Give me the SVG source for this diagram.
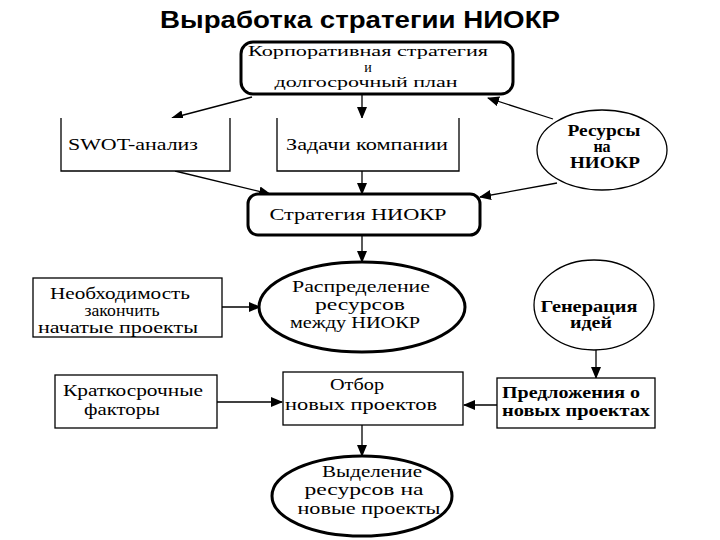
<svg xmlns="http://www.w3.org/2000/svg" width="720" height="540" viewBox="0 0 720 540">
<defs>
<style>
.t{font-family:"Liberation Serif","Times New Roman",serif;font-size:16px;fill:#000;text-anchor:middle}
.s{font-size:14px}
.b{font-weight:bold}
.thick{fill:#fff;stroke:#000;stroke-width:3}
.thin{fill:#fff;stroke:#000;stroke-width:1.3}
.c{fill:none;stroke:#000;stroke-width:1.3;marker-end:url(#ah)}
</style>
<marker id="ah" viewBox="0 0 12 10" refX="11" refY="5" markerWidth="12" markerHeight="10" markerUnits="userSpaceOnUse" orient="auto">
<path d="M0,0 L12,5 L0,10 Z" fill="#000"/>
</marker>
</defs>
<rect width="720" height="540" fill="#fff"/>
<text x="360" y="28" textLength="400" lengthAdjust="spacingAndGlyphs" style="font-family:'Liberation Sans',Arial,sans-serif;font-size:23px;font-weight:bold;text-anchor:middle">Выработка стратегии НИОКР</text>

<g id="connectors">
<path class="c" d="M252,97 L172,118"/>
<path class="c" d="M362,95 L362,118"/>
<path class="c" d="M553,119 L488,98"/>
<path class="c" d="M175,171 L270,194"/>
<path class="c" d="M362,171 L362,194"/>
<path class="c" d="M557,183 L480,197"/>
<path class="c" d="M362,235 L362,262"/>
<path class="c" d="M222,307 L260,307"/>
<path class="c" d="M596,350 L596,378"/>
<path class="c" d="M217,402 L282,402"/>
<path class="c" d="M497,405 L464,405"/>
<path class="c" d="M362,425 L362,456"/>
</g>

<g id="corp">
<rect class="thick" x="241" y="42" width="272" height="52" rx="12"/>
<text class="t s" x="368" y="56" textLength="240" lengthAdjust="spacingAndGlyphs">Корпоративная стратегия</text>
<text class="t s" x="368" y="71.5">и</text>
<text class="t s" x="366" y="87" textLength="183" lengthAdjust="spacingAndGlyphs">долгосрочный план</text>
</g>

<g id="swot">
<path class="thin" d="M61,118 L61,171 L230,171 L230,118"/>
<text class="t" x="133" y="150" textLength="130" lengthAdjust="spacingAndGlyphs">SWOT-анализ</text>
</g>

<g id="tasks">
<path class="thin" d="M277,118 L277,171 L459,171 L459,118"/>
<text class="t" x="367" y="150" textLength="162" lengthAdjust="spacingAndGlyphs">Задачи компании</text>
</g>

<g id="resources">
<ellipse class="thin" cx="602" cy="150" rx="65" ry="40"/>
<text class="t b" x="604" y="136" textLength="73" lengthAdjust="spacingAndGlyphs">Ресурсы</text>
<text class="t b" x="602" y="152">на</text>
<text class="t b" x="605" y="168" textLength="70" lengthAdjust="spacingAndGlyphs">НИОКР</text>
</g>

<g id="strategy">
<rect class="thick" x="248" y="194" width="232" height="41" rx="10"/>
<text class="t" x="358" y="220" textLength="177" lengthAdjust="spacingAndGlyphs">Стратегия НИОКР</text>
</g>

<g id="finish">
<rect class="thin" x="33" y="278" width="189" height="59"/>
<text class="t" x="120" y="299" textLength="140" lengthAdjust="spacingAndGlyphs">Необходимость</text>
<text class="t" x="122" y="316" textLength="75" lengthAdjust="spacingAndGlyphs">закончить</text>
<text class="t" x="118" y="333" textLength="160" lengthAdjust="spacingAndGlyphs">начатые проекты</text>
</g>

<g id="distribution">
<ellipse class="thick" cx="362" cy="307" rx="103" ry="45"/>
<text class="t" x="361" y="292" textLength="138" lengthAdjust="spacingAndGlyphs">Распределение</text>
<text class="t" x="360" y="310" textLength="90" lengthAdjust="spacingAndGlyphs">ресурсов</text>
<text class="t" x="355" y="328" textLength="130" lengthAdjust="spacingAndGlyphs">между НИОКР</text>
</g>

<g id="ideas">
<ellipse class="thin" cx="594" cy="305" rx="60" ry="45"/>
<text class="t b" x="589" y="312" textLength="97" lengthAdjust="spacingAndGlyphs">Генерация</text>
<text class="t b" x="591" y="328" textLength="42" lengthAdjust="spacingAndGlyphs">идей</text>
</g>

<g id="short">
<rect class="thin" x="55" y="375" width="162" height="53"/>
<text class="t" x="133" y="396" textLength="140" lengthAdjust="spacingAndGlyphs">Краткосрочные</text>
<text class="t" x="122" y="415" textLength="76" lengthAdjust="spacingAndGlyphs">факторы</text>
</g>

<g id="selection">
<rect class="thin" x="283" y="372" width="180" height="53"/>
<text class="t" x="357" y="390" textLength="54" lengthAdjust="spacingAndGlyphs">Отбор</text>
<text class="t" x="361" y="410" textLength="152" lengthAdjust="spacingAndGlyphs">новых проектов</text>
</g>

<g id="proposals">
<rect class="thin" x="497" y="378" width="158" height="50"/>
<text class="t b" x="502" y="398" textLength="138" lengthAdjust="spacingAndGlyphs" style="text-anchor:start">Предложения о</text>
<text class="t b" x="502" y="416" textLength="148" lengthAdjust="spacingAndGlyphs" style="text-anchor:start">новых проектах</text>
</g>

<g id="allocation">
<ellipse class="thick" cx="362" cy="496" rx="90" ry="40"/>
<text class="t" x="372" y="477" textLength="100" lengthAdjust="spacingAndGlyphs">Выделение</text>
<text class="t" x="364" y="495" textLength="119" lengthAdjust="spacingAndGlyphs">ресурсов на</text>
<text class="t" x="369" y="514" textLength="143" lengthAdjust="spacingAndGlyphs">новые проекты</text>
</g>
</svg>
